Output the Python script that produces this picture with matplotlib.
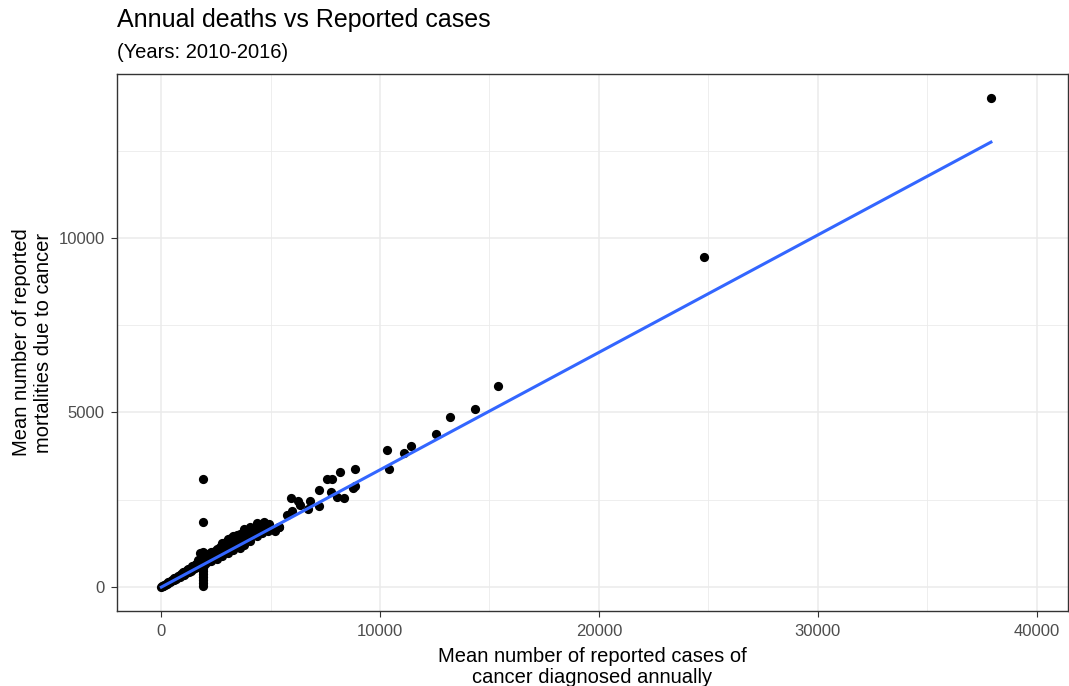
import numpy as np
import matplotlib
matplotlib.use("Agg")
import matplotlib.pyplot as plt

# Mean reported cases (x) and mean reported deaths (y)
band_cases = [15, 40, 70, 110, 150, 200, 240, 290, 330, 380, 420, 470, 500, 550,
              600, 650, 700, 760, 800, 850, 900, 960, 1000, 1050, 1100, 1160,
              1200, 1260, 1300, 1350, 1400, 1460, 1500, 1560, 1600, 1650, 1700,
              1780, 1780, 1850, 2000, 2000, 2080, 2150, 2200, 2300, 2300, 2400,
              2450, 2560, 2560, 2650, 2700, 2800, 2800, 2900, 2950, 3060, 3060,
              3150, 3200, 3300, 3300, 3400, 3450, 3600, 3600, 3700, 3800, 3800,
              3900, 4060, 4060, 4200, 4380, 4380, 4500, 4600, 4600, 4750, 4890,
              4890, 5050, 5200, 5200, 5400,
              300, 600, 900, 1250, 1550, 2100, 2350, 2600, 2850, 3100, 3350,
              3500, 3650, 3950, 4150, 4300, 4450, 4700, 4950, 1400, 1700, 2500]
band_deaths = [5, 15, 25, 40, 50, 60, 90, 95, 110, 130, 150, 160, 200, 190,
               210, 250, 240, 300, 320, 290, 340, 380, 420, 340, 440, 400,
               480, 430, 520, 460, 540, 500, 600, 540, 650, 580, 700,
               590, 980, 640, 660, 900, 720, 950, 780, 740, 1000, 860,
               1040, 800, 1085, 960, 1150, 900, 1250, 1050, 1300, 975, 1375,
               1150, 1400, 1050, 1450, 1250, 1500, 1115, 1515, 1350, 1200, 1650,
               1450, 1315, 1715, 1550, 1450, 1835, 1650, 1550, 1800, 1700, 1600,
               1715, 1650, 1600, 1660, 1720,
               140, 250, 380, 500, 620, 820, 900, 980, 1100, 1250, 1300,
               1400, 1450, 1550, 1650, 1700, 1750, 1850, 1800, 610, 760, 950]

streak_cases = [1920] * 14
streak_deaths = [30, 120, 200, 280, 360, 450, 530, 620, 700, 800, 900, 1000,
                 1860, 3095]

upper_cases = [5390, 5750, 5935, 5980, 6255, 6345, 6710, 6800, 7215, 7215,
               7580, 7760, 7810, 8040, 8170, 8355, 8770, 8860, 8860, 10320,
               10410, 11100, 11415, 12560, 13200, 14340, 15390, 24790, 37900]
upper_deaths = [1720, 2060, 2550, 2180, 2465, 2350, 2235, 2465, 2780, 2320,
                3095, 2720, 3095, 2580, 3295, 2550, 2835, 3380, 2890, 3925,
                3380, 3840, 4040, 4380, 4870, 5100, 5760, 9455, 14010]

# linear fit (geom_smooth, method = "lm")
fit_slope = 0.3366
fit_intercept = -10

x = np.array(band_cases + streak_cases + upper_cases)
y = np.array(band_deaths + streak_deaths + upper_deaths)

plt.rcParams['font.family'] = ['Liberation Sans', 'DejaVu Sans']

fig = plt.figure(figsize=(10.69, 6.86), dpi=100)
ax = fig.add_axes([117 / 1069, 75 / 686, 951 / 1069, 537 / 686])

ax.set_xlim(-2010, 41420)
ax.set_ylim(-690, 14700)

# grid like theme_bw
ax.set_xticks([0, 10000, 20000, 30000, 40000])
ax.set_xticks([5000, 15000, 25000, 35000], minor=True)
ax.set_yticks([0, 5000, 10000])
ax.set_yticks([2500, 7500, 12500], minor=True)
ax.grid(which='major', color='#EBEBEB', linewidth=1.1)
ax.grid(which='minor', color='#EBEBEB', linewidth=0.6)
ax.set_axisbelow(True)

ax.scatter(x, y, s=44, color='black', linewidths=0, zorder=3)

xfit = np.array([x.min(), x.max()])
ax.plot(xfit, fit_slope * xfit + fit_intercept, color='#3366FF',
        linewidth=2.2, zorder=4)

for sp in ax.spines.values():
    sp.set_color('#333333')
    sp.set_linewidth(1.0)

ax.tick_params(which='major', length=4, width=0.8, color='#333333',
               labelsize=12, labelcolor='#4D4D4D', pad=5)
ax.tick_params(which='minor', length=0)

ax.set_xlabel('Mean number of reported cases of\ncancer diagnosed annually',
              fontsize=14.5, labelpad=6, linespacing=1.15)
ax.set_ylabel('Mean number of reported\nmortalities due to cancer',
              fontsize=14.5, labelpad=4, linespacing=1.2)

fig.text(117 / 1069, 1 - 20 / 686, 'Annual deaths vs Reported cases',
         fontsize=18, va='center', ha='left')
fig.text(117 / 1069, 1 - 52 / 686, '(Years: 2010-2016)',
         fontsize=14.5, va='center', ha='left')

fig.savefig('out.png', dpi=100)
